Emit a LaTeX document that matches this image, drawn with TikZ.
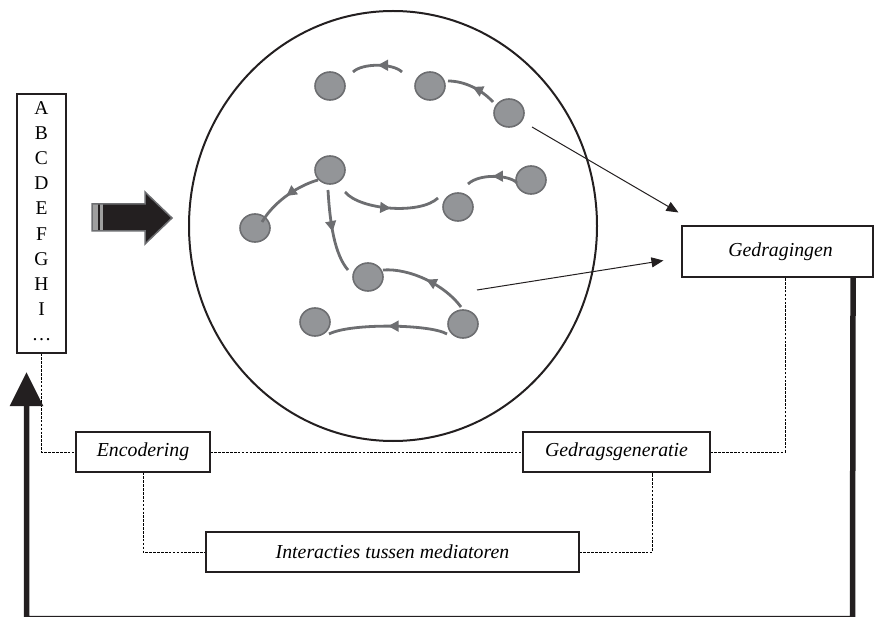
\documentclass[tikz,border=0pt]{standalone}
\usepackage{fontspec}
\setmainfont{Liberation Serif}
\usetikzlibrary{arrows.meta,calc,decorations.markings,shapes.geometric}
\definecolor{nodegray}{HTML}{939598}
\definecolor{edgegray}{HTML}{6D6E71}
\definecolor{inkblack}{HTML}{231F20}
\begin{document}
\begin{tikzpicture}[x=1pt,y=-1pt,
  box/.style={draw=inkblack, line width=1.1pt, inner sep=0pt, font=\fontsize{19.8}{23}\selectfont\itshape},
  agent/.style={ellipse, draw=edgegray, fill=nodegray, line width=1.6pt, minimum width=30pt, minimum height=28pt, inner sep=0pt},
  flow/.style={draw=edgegray, line width=2.8pt, postaction={decorate},
    decoration={markings, mark=at position #1 with {\arrow[edgegray]{Triangle[length=10.5pt,width=10.5pt]}}}},
  flow/.default=0.5,
  dotline/.style={draw=black, line width=1pt, dash pattern=on 2.6pt off 1.3pt},
  pointer/.style={draw=inkblack, line width=1pt, -{Triangle[length=12pt,width=10pt]}},
  heavy/.style={draw=inkblack, line width=5.5pt, line join=miter}
]
\useasboundingbox (0,0) rectangle (875,617);

% world ellipse
\node[ellipse, draw=inkblack, line width=2pt, minimum width=408pt, minimum height=430pt, inner sep=0pt] (world) at (393,226) {};

% letters box
\node[draw=inkblack, line width=1.1pt, minimum width=49pt, minimum height=259pt, inner sep=0pt,
  label={[anchor=north, align=center, inner sep=0pt, yshift=-8pt, font=\fontsize{19.5}{25.1}\selectfont]north:A\\B\\C\\D\\E\\F\\G\\H\\I\\\ldots}] (letters) at (41.5,223.5) {};

% big input arrow
\fill[inkblack] (92,204) -- (145,204) -- (145,192) -- (172,218) -- (145,244) -- (145,231) -- (92,231) -- cycle;
\fill[gray!75] (92,204) rectangle (103,231);
\fill[inkblack] (97.7,204) rectangle (100,231);
\draw[edgegray, line width=1.5pt, line join=miter] (92,204) -- (145,204) -- (145,192) -- (172,218) -- (145,244) -- (145,231) -- (92,231) -- cycle;

% boxes
\node[box, minimum width=191pt, minimum height=51pt] (ged) at (777.5,251.5) {\hspace*{6pt}Gedragingen};
\node[box, minimum width=134pt, minimum height=40pt] (enc) at (143,452) {Encodering};
\node[box, minimum width=187pt, minimum height=40pt] (gen) at (616.5,452) {Gedragsgeneratie};
\node[box, minimum width=373pt, minimum height=40pt] (inter) at (392.5,552) {Interacties tussen mediatoren};

% agents
\node[agent] (n1) at (330,86) {};
\node[agent] (n2) at (430,86) {};
\node[agent] (n3) at (509,113) {};
\node[agent] (n4) at (330,170) {};
\node[agent] (n5) at (255,228) {};
\node[agent] (n6) at (458,207) {};
\node[agent] (n7) at (531,180) {};
\node[agent] (n8) at (368,277) {};
\node[agent] (n9) at (463,324) {};
\node[agent] (n10) at (315,322) {};

% interactions
\draw[flow] ($(n2)+(-28,-14)$) .. controls +(-9,-9) and +(9,-9) .. ($(n1)+(23,-14)$);
\draw[flow] ($(n3)+(-16,-11)$) .. controls +(-11,-12) and +(17,0) .. ($(n2)+(18,-5)$);
\draw[flow] ($(n4)+(-12,10)$) .. controls +(-18,5) and +(13,-22) .. ($(n5)+(7,-6)$);
\draw[flow] ($(n4)+(-2,20)$) .. controls +(2,35) and +(-13,-15) .. ($(n8)+(-20,-7)$);
\draw[flow] ($(n4)+(15,22)$) .. controls +(15,18) and +(-18,17) .. ($(n6)+(-20,-9)$);
\draw[flow] ($(n7)+(-14,3)$) .. controls +(-7,-8) and +(12,-11) .. ($(n6)+(10,-23)$);
\draw[flow] ($(n9)+(-2,-17)$) .. controls +(-16,-22) and +(27,-2) .. ($(n8)+(15,-7)$);
\draw[flow] ($(n9)+(-16,10)$) .. controls +(-17,-10) and +(21,-11) .. ($(n10)+(14,12)$);

% pointers to behaviours
\draw[pointer] ($(n3)+(23,14)$) -- ($(ged.north west)+(-3,-13)$);
\draw[pointer] ($(n9)+(14,-34)$) -- ($(ged.west)+(-18,9)$);

% dotted links
\draw[dotline] (letters.south) |- (enc.west);
\draw[dotline] (enc.east) -- (gen.west);
\draw[dotline] (gen.east) -| ($(ged.south)+(7.5,0)$);
\draw[dotline] (enc.south) |- (inter.west);
\draw[dotline] (inter.east) -| ($(gen.south)+(36,0)$);

% feedback loop
\coordinate (br) at (852.5,618.5);
\coordinate (bl) at (26.5,618.5);
\coordinate (tip) at (26.5,372);
\draw[heavy, -{Triangle[length=34pt,width=32pt]}] ($(ged.south east)+(-20.5,0)$) -- (br) -- (bl) -- (tip);
\end{tikzpicture}
\end{document}
